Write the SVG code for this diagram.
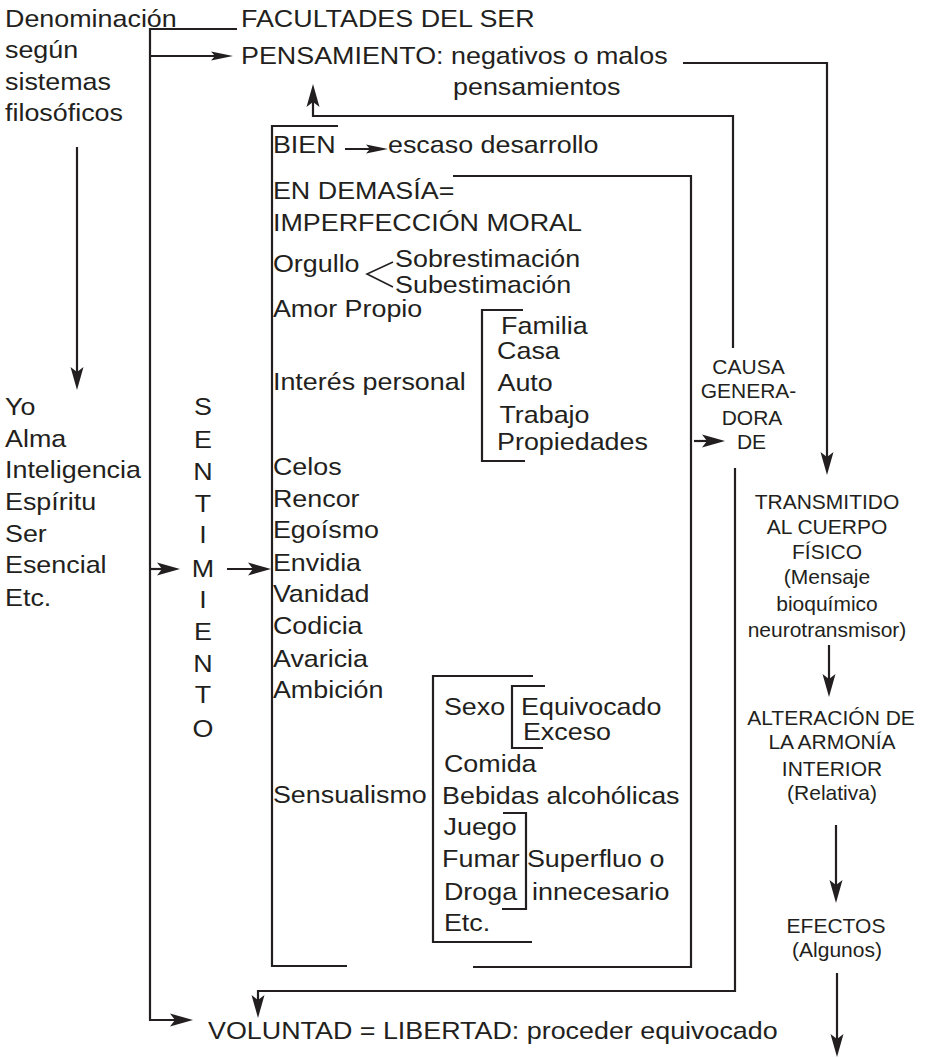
<svg xmlns="http://www.w3.org/2000/svg" width="925" height="1058" viewBox="0 0 925 1058">
<style>
.t{font-family:"Liberation Sans",Arial,Helvetica,sans-serif;font-size:24px;fill:#231f20}
.r{font-family:"Liberation Sans",Arial,Helvetica,sans-serif;font-size:21px;fill:#231f20;text-anchor:middle}
.m{text-anchor:middle}
.ln{fill:none;stroke:#231f20;stroke-width:2.2;stroke-linejoin:miter;stroke-linecap:butt}
.thin{fill:none;stroke:#231f20;stroke-width:1.6}
</style>
<defs>
<marker id="ah" markerUnits="userSpaceOnUse" orient="auto" overflow="visible" markerWidth="30" markerHeight="20" refX="0" refY="0"><path d="M8,0 L-15,-6.5 L-10,0 L-15,6.5 Z" fill="#231f20"/></marker>
<marker id="ahs" markerUnits="userSpaceOnUse" orient="auto" overflow="visible" markerWidth="30" markerHeight="20" refX="0" refY="0"><path d="M8,0 L-14,-4.5 L-10,0 L-14,4.5 Z" fill="#231f20"/></marker>
</defs>
<rect width="925" height="1058" fill="#ffffff"/>

<g id="connectors">
<path class="ln" d="M77,147 V382" marker-end="url(#ah)"/>
<path class="ln" d="M237,29 H150 V1020 H185" marker-end="url(#ah)"/>
<path class="ln" d="M150,56 H225" marker-end="url(#ahs)"/>
<path class="ln" d="M733,348 V116 H313 V92" marker-end="url(#ah)"/>
<path class="ln" d="M345,149 H380" marker-end="url(#ahs)"/>
<path class="ln" d="M694,441 H717" marker-end="url(#ah)"/>
<path class="ln" d="M683,63 H827 V467" marker-end="url(#ah)"/>
<path class="ln" d="M829,645 V689" marker-end="url(#ah)"/>
<path class="ln" d="M836,825 V895" marker-end="url(#ah)"/>
<path class="ln" d="M837,973 V1049" marker-end="url(#ah)"/>
<path class="ln" d="M735,468 V991 H258 V1010" marker-end="url(#ah)"/>
<path class="ln" d="M150,569 H172" marker-end="url(#ah)"/>
<path class="ln" d="M227,569 H263" marker-end="url(#ah)"/>
</g>

<g id="denominacion" transform="scale(1.12 1)">
<text class="t" x="4.46" y="27">Denominación</text>
<text class="t" x="4.46" y="58">según</text>
<text class="t" x="4.46" y="90">sistemas</text>
<text class="t" x="4.46" y="121">filosóficos</text>
</g>

<g id="nombres" transform="scale(1.12 1)">
<text class="t" x="4.46" y="415">Yo</text>
<text class="t" x="4.46" y="447">Alma</text>
<text class="t" x="4.46" y="478">Inteligencia</text>
<text class="t" x="4.46" y="510">Espíritu</text>
<text class="t" x="4.46" y="542">Ser</text>
<text class="t" x="4.46" y="573">Esencial</text>
<text class="t" x="4.46" y="606">Etc.</text>
</g>

<g id="facultades" transform="scale(1.12 1)">
<text class="t" x="215.2" y="27">FACULTADES DEL SER</text>
</g>

<g id="pensamiento" transform="scale(1.12 1)">
<text class="t" x="215.2" y="64">PENSAMIENTO: negativos o malos</text>
<text class="t" x="404.5" y="95">pensamientos</text>
</g>

<g id="sentimiento" transform="scale(1.12 1)">
<text class="t m" x="181.3" y="415">S</text>
<text class="t m" x="181.3" y="448">E</text>
<text class="t m" x="181.3" y="480">N</text>
<text class="t m" x="181.3" y="512">T</text>
<text class="t m" x="181.3" y="543">I</text>
<text class="t m" x="181.3" y="577">M</text>
<text class="t m" x="181.3" y="608">I</text>
<text class="t m" x="181.3" y="640">E</text>
<text class="t m" x="181.3" y="672">N</text>
<text class="t m" x="181.3" y="703">T</text>
<text class="t m" x="181.3" y="737">O</text>
</g>

<g id="lista">
<path class="ln" d="M338,126 H272 V966 H347"/>
<path class="ln" d="M453,176 H691 V967 H473"/>
<path class="thin" d="M393,262 L367,274 L393,287"/>
<g transform="scale(1.12 1)">
<text class="t" x="243.7" y="153">BIEN</text>
<text class="t" x="346.4" y="153">escaso desarrollo</text>
<text class="t" x="243.7" y="199">EN DEMASÍA=</text>
<text class="t" x="243.7" y="231">IMPERFECCIÓN MORAL</text>
<text class="t" x="243.7" y="272">Orgullo</text>
<text class="t" x="352.7" y="267">Sobrestimación</text>
<text class="t" x="352.7" y="293">Subestimación</text>
<text class="t" x="243.7" y="317">Amor Propio</text>
<text class="t" x="243.7" y="390">Interés personal</text>
<text class="t" x="243.7" y="475">Celos</text>
<text class="t" x="243.7" y="507">Rencor</text>
<text class="t" x="243.7" y="538">Egoísmo</text>
<text class="t" x="243.7" y="571">Envidia</text>
<text class="t" x="243.7" y="602">Vanidad</text>
<text class="t" x="243.7" y="634">Codicia</text>
<text class="t" x="243.7" y="667">Avaricia</text>
<text class="t" x="243.7" y="698">Ambición</text>
<text class="t" x="243.7" y="803">Sensualismo</text>
</g>
</g>

<g id="interes">
<path class="ln" d="M523,310 H482 V461 H525"/>
<g transform="scale(1.12 1)">
<text class="t" x="447.4" y="334">Familia</text>
<text class="t" x="443.8" y="359">Casa</text>
<text class="t" x="444.2" y="391">Auto</text>
<text class="t" x="445.9" y="423">Trabajo</text>
<text class="t" x="443.8" y="450">Propiedades</text>
</g>
</g>

<g id="sensualismo">
<path class="ln" d="M533,676 H433 V942 H532"/>
<path class="ln" d="M545,686 H512 V748 H543"/>
<path class="ln" d="M503,813 H526 V909 H502"/>
<g transform="scale(1.12 1)">
<text class="t" x="396.4" y="715">Sexo</text>
<text class="t" x="465.2" y="715">Equivocado</text>
<text class="t" x="466.9" y="740">Exceso</text>
<text class="t" x="396.4" y="772">Comida</text>
<text class="t" x="394.7" y="804">Bebidas alcohólicas</text>
<text class="t" x="396.0" y="835">Juego</text>
<text class="t" x="394.7" y="867">Fumar</text>
<text class="t" x="396.4" y="900">Droga</text>
<text class="t" x="396.4" y="931">Etc.</text>
<text class="t" x="470.5" y="867">Superfluo o</text>
<text class="t" x="475.0" y="900">innecesario</text>
</g>
</g>

<g id="causa">
<text class="r" x="748.5" y="374">CAUSA</text>
<text class="r" x="748.5" y="398">GENERA-</text>
<text class="r" x="752" y="425">DORA</text>
<text class="r" x="751.5" y="449">DE</text>
</g>

<g id="transmitido">
<text class="r" x="827" y="509">TRANSMITIDO</text>
<text class="r" x="827" y="534">AL CUERPO</text>
<text class="r" x="827" y="559">FÍSICO</text>
<text class="r" x="827" y="584">(Mensaje</text>
<text class="r" x="827" y="611">bioquímico</text>
<text class="r" x="827" y="637">neurotransmisor)</text>
</g>

<g id="alteracion">
<text class="r" x="831" y="725">ALTERACIÓN DE</text>
<text class="r" x="832" y="749">LA ARMONÍA</text>
<text class="r" x="832" y="776">INTERIOR</text>
<text class="r" x="832" y="800">(Relativa)</text>
</g>

<g id="efectos">
<text class="r" x="836" y="933">EFECTOS</text>
<text class="r" x="837" y="957">(Algunos)</text>
</g>

<g id="voluntad" transform="scale(1.12 1)">
<text class="t" x="185.7" y="1039">VOLUNTAD = LIBERTAD: proceder equivocado</text>
</g>
</svg>
